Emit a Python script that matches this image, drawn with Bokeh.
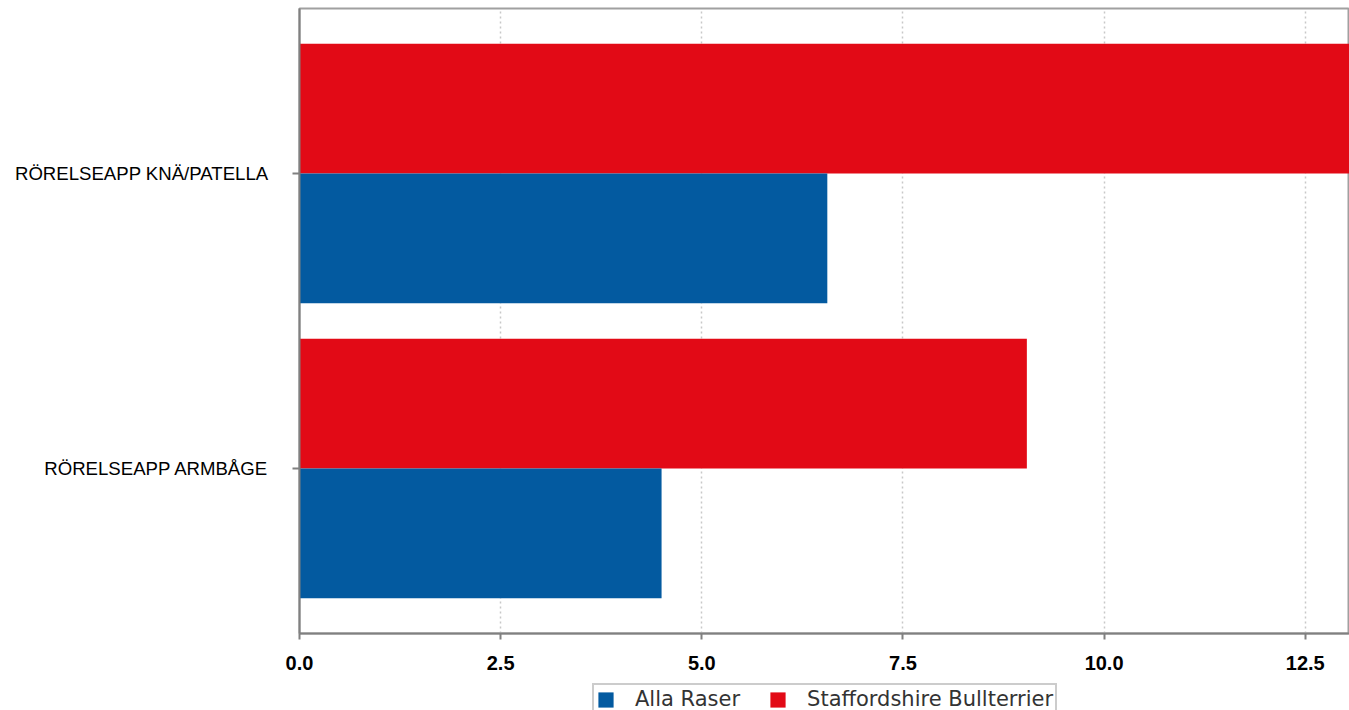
from bokeh.plotting import figure
from bokeh.layouts import column
from bokeh.models import ColumnDataSource, FactorRange, Range1d, Legend, LegendItem
from bokeh.transform import dodge
from bokeh.embed import file_html
from bokeh.resources import INLINE

categories = ["RÖRELSEAPP ARMBÅGE", "RÖRELSEAPP KNÄ/PATELLA"]
alla_raser = [4.50, 6.56]
staffordshire = [9.04, 13.05]
series_names = ["Alla Raser", "Staffordshire Bullterrier"]
series_colors = ["#035AA0", "#E20A16"]
x_ticks = [0.0, 2.5, 5.0, 7.5, 10.0, 12.5]

src = ColumnDataSource(dict(cat=categories, alla=alla_raser, staff=staffordshire))

p = figure(width=1349, height=683, output_backend="svg", toolbar_location=None,
           y_range=FactorRange(factors=categories, range_padding=0.0595),
           x_range=Range1d(0, 13.05),
           min_border_left=299, min_border_right=0, min_border_top=8, min_border_bottom=50)

p.background_fill_color = "white"
p.border_fill_color = "white"
p.outline_line_color = "#a0a0a0"
p.outline_line_width = 2

p.hbar(y=dodge("cat", 0.22, range=p.y_range), right="staff", left=0, height=0.44,
       source=src, fill_color=series_colors[1], line_color=None)
p.hbar(y=dodge("cat", -0.22, range=p.y_range), right="alla", left=0, height=0.44,
       source=src, fill_color=series_colors[0], line_color=None)

# grid
p.ygrid.grid_line_color = None
p.xgrid.grid_line_color = "#c8c8c8"
p.xgrid.grid_line_dash = "2 3"
p.xgrid.grid_line_width = 1.5

# x axis
p.xaxis.ticker = x_ticks
p.xaxis.major_label_overrides = {t: f"{t:.1f}" for t in x_ticks}
p.xaxis.major_label_text_font = "Liberation Sans"
p.xaxis.major_label_text_font_style = "bold"
p.xaxis.major_label_text_font_size = "20px"
p.xaxis.major_label_text_color = "black"
p.xaxis.axis_line_color = "#808080"
p.xaxis.axis_line_width = 2
p.xaxis.major_tick_line_color = "#808080"
p.xaxis.major_tick_line_width = 2
p.xaxis.major_tick_in = 0
p.xaxis.major_tick_out = 6
p.xaxis.minor_tick_line_color = None
p.xaxis.major_label_standoff = 16

# y axis
p.yaxis.major_label_text_font = "Liberation Sans"
p.yaxis.major_label_text_font_size = "18.6px"
p.yaxis.major_label_text_color = "black"
p.yaxis.axis_line_color = "#808080"
p.yaxis.axis_line_width = 2
p.yaxis.major_tick_line_color = "#808080"
p.yaxis.major_tick_line_width = 2
p.yaxis.major_tick_in = 0
p.yaxis.major_tick_out = 7
p.yaxis.major_label_standoff = 24

# legend strip (separate small figure below the chart; its bars lie outside its view)
pl = figure(width=1349, height=27, output_backend="svg", toolbar_location=None,
            x_range=Range1d(-2, -1), y_range=FactorRange(factors=categories),
            min_border_left=0, min_border_right=0, min_border_top=0, min_border_bottom=0)
pl.axis.visible = False
pl.grid.grid_line_color = None
pl.outline_line_color = None
pl.background_fill_color = "white"
pl.border_fill_color = "white"
l_alla = pl.hbar(y="cat", right="alla", left=0, height=0.5, source=src,
                 fill_color=series_colors[0], line_color=None)
l_staff = pl.hbar(y="cat", right="staff", left=0, height=0.5, source=src,
                  fill_color=series_colors[1], line_color=None)

legend = Legend(items=[LegendItem(label=series_names[0], renderers=[l_alla]),
                       LegendItem(label=series_names[1], renderers=[l_staff])],
                orientation="horizontal", location=(293, -5),
                label_text_font="DejaVu Sans", label_text_font_size="21px",
                label_text_color="#333333",
                glyph_width=19, glyph_height=19, label_standoff=20, spacing=28,
                padding=2, margin=0,
                border_line_color="#999999", border_line_width=2,
                background_fill_color="white", background_fill_alpha=1.0)
pl.add_layout(legend, "center")

layout = column(p, pl, spacing=0)

open("out.html", "w").write(file_html(layout, INLINE))
